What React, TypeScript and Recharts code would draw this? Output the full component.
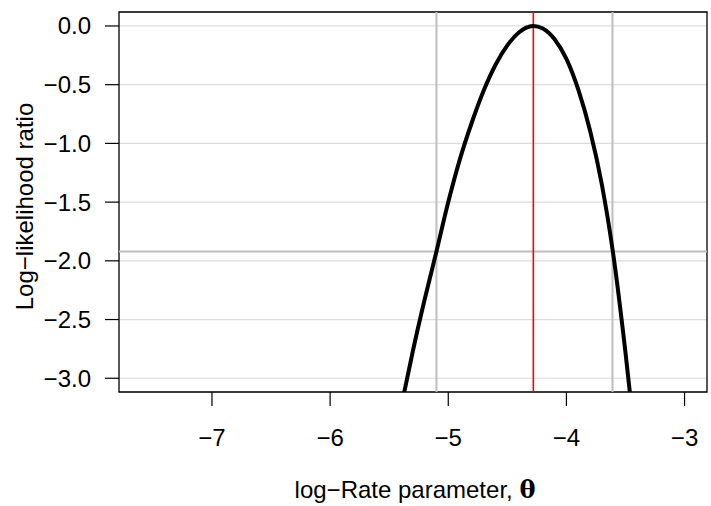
import {
  LineChart,
  Line,
  XAxis,
  YAxis,
  CartesianGrid,
  ReferenceLine,
  ReferenceArea,
  Label,
} from "recharts";

const theta = [
  -5.4, -5.3, -5.2, -5.1, -5.0, -4.9, -4.8, -4.7, -4.6, -4.5, -4.4, -4.3,
  -4.28, -4.2, -4.1, -4.0, -3.9, -3.8, -3.7, -3.6, -3.5, -3.4,
];
const llr = [
  -3.25, -2.77, -2.33, -1.92, -1.5, -1.13, -0.82, -0.55, -0.33, -0.165,
  -0.053, -0.002, 0, -0.022, -0.113, -0.28, -0.54, -0.89, -1.35, -1.97,
  -2.78, -3.7,
];

const xTicks = [-7, -6, -5, -4, -3];
const yTicks = [-3, -2.5, -2, -1.5, -1, -0.5, 0];

const mle = -4.28;
const ciLower = -5.1;
const ciUpper = -3.61;
const cutoff = -1.92;

const X_DOMAIN = [-7.787, -2.81];
const Y_DOMAIN = [-3.117, 0.119];

const FONT = "'Liberation Sans', Arial, Helvetica, sans-serif";
const FS = 24;

const data = theta.map((t, i) => ({ theta: t, llr: llr[i] }));

const fmtX = (v: number) => String(v).replace("-", "\u2212");
const fmtY = (v: number) =>
  v === 0 ? "0.0" : v.toFixed(1).replace("-", "\u2212");

export default function App() {
  return (
    <div style={{ position: "absolute", left: 0, top: 0, background: "#fff" }}>
      <LineChart
        width={711}
        height={506}
        data={data}
        margin={{ top: 12, right: 4, bottom: 0, left: 0 }}
      >
        <CartesianGrid vertical={false} stroke="#dcdcdc" strokeWidth={1.2} />
        <XAxis
          dataKey="theta"
          type="number"
          domain={X_DOMAIN}
          allowDataOverflow
          ticks={xTicks}
          tickFormatter={fmtX}
          height={114}
          axisLine={false}
          tickSize={14}
          tickMargin={23}
          tickLine={{ stroke: "#000", strokeWidth: 1.2 }}
          tick={{ fill: "#000", fontSize: FS, fontFamily: FONT }}
        >
          <Label
            content={() => (
              <text
                x={415}
                y={498}
                textAnchor="middle"
                fill="#000"
                fontSize={FS}
                fontFamily={FONT}
              >
                log{"\u2212"}Rate parameter,{" "}
                <tspan fontFamily="'DejaVu Serif', serif" fontWeight="bold">
                  {"\u03b8"}
                </tspan>
              </text>
            )}
          />
        </XAxis>
        <YAxis
          type="number"
          domain={Y_DOMAIN}
          allowDataOverflow
          ticks={yTicks}
          tickFormatter={fmtY}
          width={119}
          axisLine={false}
          tickSize={14}
          tickMargin={14}
          tickLine={{ stroke: "#000", strokeWidth: 1.2 }}
          tick={{ fill: "#000", fontSize: FS, fontFamily: FONT }}
        >
          <Label
            content={() => (
              <text
                x={32.5}
                y={206.5}
                transform="rotate(-90 32.5 206.5)"
                textAnchor="middle"
                fill="#000"
                fontSize={FS}
                fontFamily={FONT}
              >
                Log{"\u2212"}likelihood ratio
              </text>
            )}
          />
        </YAxis>
        <ReferenceLine x={ciLower} stroke="#bebebe" strokeWidth={2} />
        <ReferenceLine x={ciUpper} stroke="#bebebe" strokeWidth={2} />
        <ReferenceLine y={cutoff} stroke="#bebebe" strokeWidth={2} />
        <ReferenceLine x={mle} stroke="#ff0000" strokeWidth={1.6} />
        <Line
          dataKey="llr"
          type="monotone"
          stroke="#000"
          strokeWidth={4}
          dot={false}
          activeDot={false}
          isAnimationActive={false}
        />
        <ReferenceArea
          x1={X_DOMAIN[0]}
          x2={X_DOMAIN[1]}
          y1={Y_DOMAIN[0]}
          y2={Y_DOMAIN[1]}
          fill="none"
          stroke="#000"
          strokeWidth={1.3}
          ifOverflow="visible"
        />
      </LineChart>
    </div>
  );
}
